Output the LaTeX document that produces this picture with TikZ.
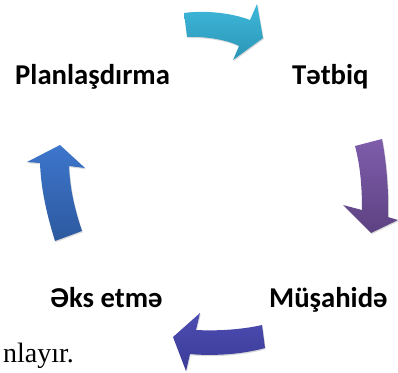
\documentclass[tikz,border=0pt]{standalone}
\usepackage{fontspec}
\setmainfont{Liberation Serif}
\newfontfamily\lblfont{Carlito}
\usetikzlibrary{shadows}
\tikzset{
  lbl/.style={font=\lblfont\bfseries\fontsize{28.7}{30}\selectfont, inner sep=0pt, anchor=base west, text=black},
  body/.style={font=\fontsize{28}{30}\selectfont, inner sep=0pt, anchor=base east, text=black},
  arr/.style={draw=none, drop shadow={shadow xshift=0.8pt, shadow yshift=-1.2pt, opacity=0.15, fill=black}},
}
\definecolor{cyanT}{HTML}{3EB8DA}
\definecolor{cyanB}{HTML}{2B95B6}
\definecolor{purT}{HTML}{7E5DAB}
\definecolor{purB}{HTML}{5D4282}
\definecolor{indT}{HTML}{4D4DB2}
\definecolor{indB}{HTML}{3B3B98}
\definecolor{bluT}{HTML}{3D76CC}
\definecolor{bluB}{HTML}{2D599E}
\begin{document}
\begin{tikzpicture}[x=1pt,y=-1pt]
\useasboundingbox (0,0) rectangle (398,372);
% labels
\node[lbl] (plan) at (15,84) {Planlaşdırma};
\node[lbl] (tetbiq) at (292,84) {Tətbiq};
\node[lbl] (eks) at (50,307) {Əks etmə};
\node[lbl] (musahide) at (269,307) {Müşahidə};
\node[body] (tail) at (74,362) {nlayır.};
% top arrow
\path[arr, top color=cyanT, bottom color=cyanB]
  (184,13) .. controls (205,10) and (232,13) .. (250,20) -- (257,4) -- (263,38) -- (233,60) -- (239,46)
  .. controls (228,40) and (205,36) .. (187,37) -- cycle;
% right arrow
\path[arr, top color=purT, bottom color=purB]
  (355,146) -- (382,139) .. controls (386,160) and (389,190) .. (388,217) -- (398,220) -- (371,233) -- (343,205) -- (362,210)
  .. controls (362,185) and (360,165) .. (355,146) -- cycle;
% bottom arrow
\path[arr, top color=indT, bottom color=indB]
  (262,325) .. controls (240,330) and (215,331) .. (196,330) -- (200,313) -- (173,337) -- (186,371) -- (190,354)
  .. controls (210,356) and (240,355) .. (265,348) -- cycle;
% left arrow
\path[arr, top color=bluT, bottom color=bluB]
  (55,241) .. controls (47,215) and (41,190) .. (40,163) -- (27,162) -- (60,145) -- (85,168) -- (69,166)
  .. controls (70,190) and (75,210) .. (82,231) -- cycle;
\end{tikzpicture}
\end{document}
